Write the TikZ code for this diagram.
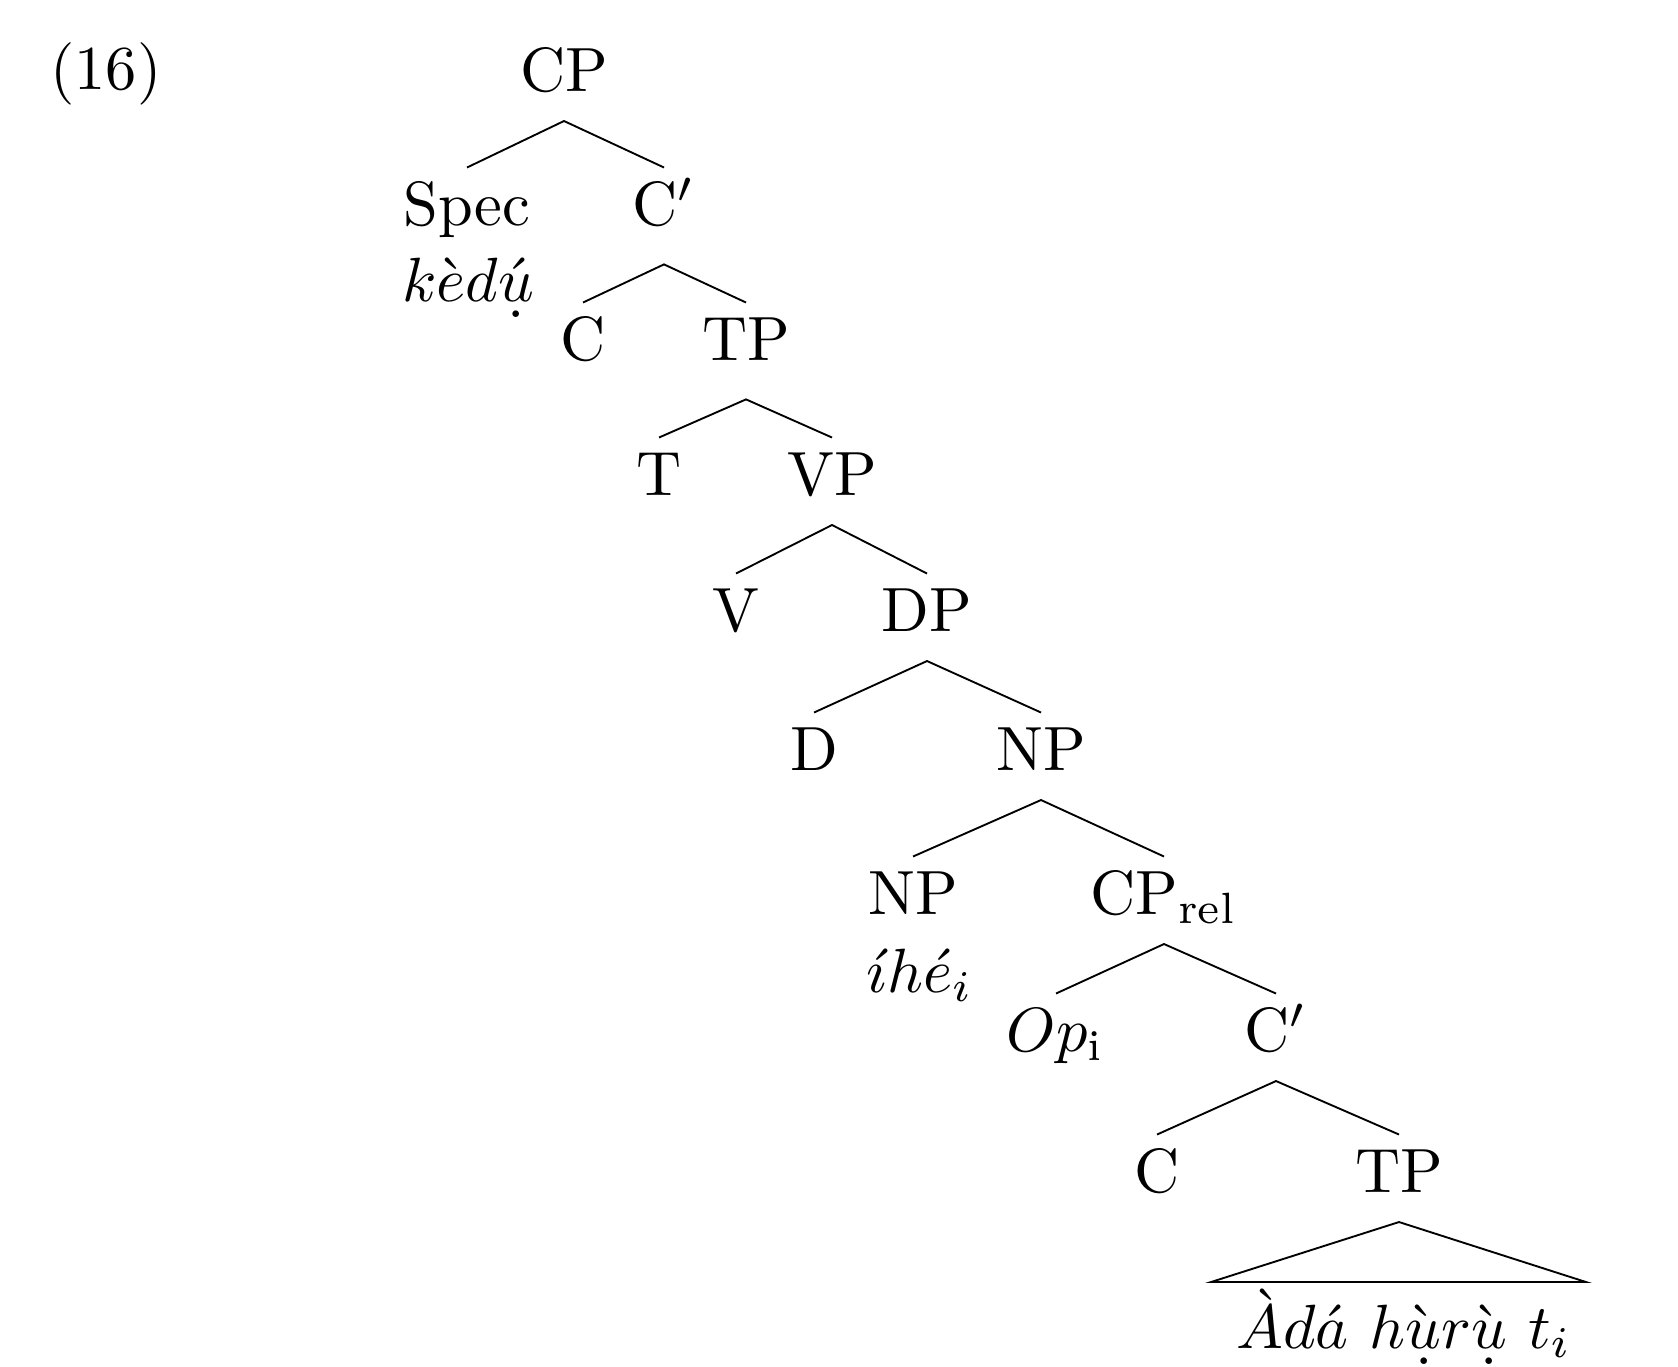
\documentclass[tikz,border=0pt]{standalone}
\usepackage{fontspec}
\newcommand{\dotbelow}[1]{\mbox{\ooalign{$#1$\cr\hidewidth\raisebox{-0.62ex}{.}\hidewidth\cr}}}
\begin{document}
\begin{tikzpicture}[x=0.16pt,y=-0.16pt,
  lab/.style={anchor=base, inner sep=2.1pt, text height=6.9pt, text depth=2.5pt},
  deeplab/.style={lab, text depth=4pt},
  plain/.style={anchor=base, inner sep=0pt},
  edge/.style={line width=0.3pt}]
\useasboundingbox (0,0) rectangle (1678,1366);
\node[plain] (ex) at (106,89) {(16)};
\node[lab] (cp) at (564,91) {CP};
\node[lab] (spec) at (467,225) {Spec};
\node[plain] (kedu) at (468,301) {$k\grave{e}d\acute{\dotbelow{u}}$};
\node[deeplab] (cbar) at (664,225) {C$'$};
\node[lab] (c) at (583,360) {C};
\node[deeplab] (tp) at (746,360) {TP};
\node[lab] (t) at (659,495) {T};
\node[lab] (vp) at (832,495) {VP};
\node[lab] (v) at (736,631) {V};
\node[lab] (dp) at (927,631) {DP};
\node[lab] (d) at (814,770) {D};
\node[lab] (np) at (1041,770) {NP};
\node[lab] (np2) at (913,914) {NP};
\node[plain] (ihe) at (920,992) {$\acute{\imath}h\acute{e}_i$};
\node[lab] (cprel) at (1164,914) {CP$_{\mathrm{rel}}$};
\node[lab] (op) at (1056,1051) {$Op_{\mathrm{i}}$};
\node[lab] (cbar2) at (1276,1051) {C$'$};
\node[lab] (c2) at (1157,1192) {C};
\node[lab] (tp2) at (1399,1192) {TP};
\coordinate (tl) at (1211,1282);
\coordinate (tr) at (1586,1282);
\node[plain] (ada) at (1404,1348) {$\grave{A}d\acute{a}\ h\grave{\dotbelow{u}}r\grave{\dotbelow{u}}\ t_i$};
\draw[edge] (spec.north) -- (cp.south) -- (cbar.north);
\draw[edge] (c.north) -- (cbar.south) -- (tp.north);
\draw[edge] (t.north) -- (tp.south) -- (vp.north);
\draw[edge] (v.north) -- (vp.south) -- (dp.north);
\draw[edge] (d.north) -- (dp.south) -- (np.north);
\draw[edge] (np2.north) -- (np.south) -- (cprel.north);
\draw[edge] (op.north) -- (cprel.south) -- (cbar2.north);
\draw[edge] (c2.north) -- (cbar2.south) -- (tp2.north);
\draw[edge] (tl) -- (tp2.south) -- (tr) -- cycle;
\end{tikzpicture}
\end{document}
